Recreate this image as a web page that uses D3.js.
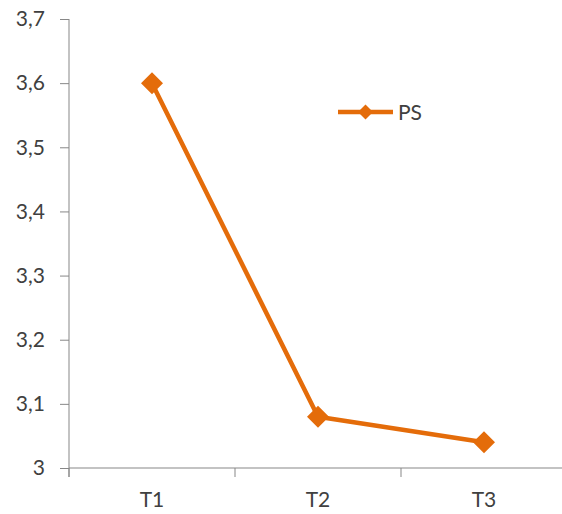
<!DOCTYPE html>
<html><head><meta charset="utf-8">
<script src="https://cdn.jsdelivr.net/npm/d3@7"></script>
<style>body{margin:0;background:#fff}svg{display:block}text{font-family:Lato,"Open Sans",sans-serif;fill:#404040}</style>
</head><body>
<script>
const categories = ["T1","T2","T3"];
const seriesName = "PS";
const values = [3.6, 3.08, 3.04];
const yTicks = [3,3.1,3.2,3.3,3.4,3.5,3.6,3.7];

const W=562,H=514, color="#E46C0A", axisColor="#878787";
const svg=d3.select("body").append("svg").attr("width",W).attr("height",H);
const x=d3.scaleBand().domain(categories).range([69,567]);
const y=d3.scaleLinear().domain([3,3.7]).range([468,19]);
const fmt=d=>d3.format(".1~f")(d).replace(".",",");

// y axis
const ya=svg.append("g").attr("transform","translate(69,0)")
  .call(d3.axisLeft(y).tickValues(yTicks).tickFormat(fmt).tickSize(9).tickPadding(15));
ya.select(".domain").attr("stroke",axisColor).attr("d","M0,19V477");
ya.selectAll(".tick line").attr("stroke",axisColor);
ya.selectAll("text").attr("font-size",21).attr("fill","#404040").style("font-family","Lato,'Open Sans',sans-serif");

// x axis
const xa=svg.append("g").attr("transform","translate(0,468)");
xa.append("line").attr("x1",69).attr("x2",W).attr("stroke",axisColor);
const bounds=categories.map(c=>x(c)).concat([x(categories[categories.length-1])+x.bandwidth()]);
xa.selectAll(".xt").data(bounds).join("line").attr("class","xt")
  .attr("x1",d=>d).attr("x2",d=>d).attr("y1",0).attr("y2",9).attr("stroke",axisColor);
xa.selectAll(".xl").data(categories).join("text").attr("class","xl")
  .attr("x",d=>x(d)+x.bandwidth()/2).attr("y",39).attr("text-anchor","middle")
  .attr("font-size",21).text(d=>d);

// line
const cx=c=>x(c)+x.bandwidth()/2;
const pts=categories.map((c,i)=>[cx(c),y(values[i])]);
svg.append("path").attr("d",d3.line()(pts)).attr("fill","none")
  .attr("stroke",color).attr("stroke-width",4.5).attr("stroke-linejoin","round");
const diamond=(s)=>`M0,${-s}L${s},0L0,${s}L${-s},0Z`;
svg.selectAll(".m").data(pts).join("path").attr("class","m")
  .attr("transform",d=>`translate(${d[0]},${d[1]})`).attr("d",diamond(11)).attr("fill",color);

// legend
const lg=svg.append("g").attr("transform","translate(338,112)");
lg.append("line").attr("x1",0).attr("x2",55).attr("stroke",color).attr("stroke-width",4.5);
lg.append("path").attr("transform","translate(27.5,0)").attr("d",diamond(7.5)).attr("fill",color);
lg.append("text").attr("x",60).attr("y",7.5).attr("font-size",21).text(seriesName);
</script>
</body></html>
